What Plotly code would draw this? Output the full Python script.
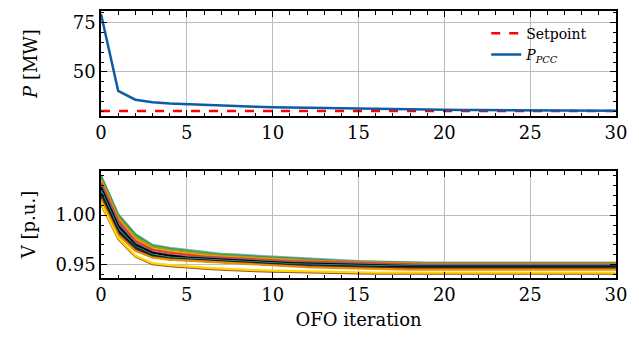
import plotly.graph_objects as go

iterations = list(range(31))

setpoint = [30.0] * 31
p_pcc = [79.5, 40.3, 35.8, 34.5, 33.9, 33.5, 33.1, 32.8, 32.5, 32.2, 31.95,
         31.8, 31.6, 31.45, 31.3, 31.15, 31.05, 30.95, 30.85, 30.75, 30.65,
         30.6, 30.5, 30.45, 30.4, 30.35, 30.3, 30.3, 30.25, 30.25, 30.2]

v_bus01 = [1.040, 1.001, 0.981, 0.970, 0.967, 0.965, 0.963, 0.961, 0.960, 0.959, 0.958,
           0.957, 0.956, 0.955, 0.954, 0.9535, 0.953, 0.9525, 0.9522, 0.9521, 0.952,
           0.952, 0.952, 0.952, 0.952, 0.952, 0.952, 0.952, 0.952, 0.952, 0.952]
v_bus02 = [1.039, 1.000, 0.980, 0.969, 0.966, 0.964, 0.962, 0.960, 0.959, 0.958, 0.957,
           0.956, 0.955, 0.954, 0.9535, 0.953, 0.9525, 0.952, 0.9517, 0.9516, 0.9515,
           0.9515, 0.9515, 0.9515, 0.9515, 0.9515, 0.9515, 0.9515, 0.9515, 0.9515, 0.9515]
v_bus03 = [1.037, 0.998, 0.978, 0.968, 0.965, 0.963, 0.961, 0.959, 0.958, 0.957, 0.956,
           0.955, 0.954, 0.9535, 0.953, 0.9525, 0.952, 0.9515, 0.9512, 0.951, 0.951,
           0.951, 0.951, 0.951, 0.951, 0.951, 0.951, 0.951, 0.951, 0.951, 0.951]
v_bus04 = [1.035, 0.996, 0.976, 0.966, 0.963, 0.961, 0.959, 0.958, 0.957, 0.956, 0.955,
           0.954, 0.9535, 0.953, 0.9525, 0.952, 0.9515, 0.951, 0.9505, 0.9505, 0.9505,
           0.9505, 0.9505, 0.9505, 0.9505, 0.9505, 0.9505, 0.9505, 0.9505, 0.9505, 0.9505]
v_bus05 = [1.033, 0.994, 0.974, 0.965, 0.962, 0.960, 0.958, 0.957, 0.956, 0.955, 0.954,
           0.9535, 0.953, 0.9525, 0.952, 0.9515, 0.951, 0.9505, 0.950, 0.950, 0.950,
           0.950, 0.950, 0.950, 0.950, 0.950, 0.950, 0.950, 0.950, 0.950, 0.950]
v_bus06 = [1.031, 0.992, 0.972, 0.963, 0.960, 0.958, 0.957, 0.956, 0.955, 0.954, 0.953,
           0.9525, 0.952, 0.9515, 0.951, 0.9505, 0.950, 0.9495, 0.9495, 0.9495, 0.9495,
           0.9495, 0.9495, 0.9495, 0.9495, 0.9495, 0.9495, 0.9495, 0.9495, 0.9495, 0.9495]
v_bus07 = [1.028, 0.989, 0.970, 0.962, 0.959, 0.957, 0.956, 0.955, 0.954, 0.953, 0.952,
           0.9515, 0.951, 0.9505, 0.950, 0.9495, 0.949, 0.9488, 0.9486, 0.9485, 0.9485,
           0.9485, 0.9485, 0.9485, 0.9485, 0.9485, 0.9485, 0.9485, 0.9485, 0.9485, 0.9485]
v_bus08 = [1.025, 0.986, 0.968, 0.960, 0.957, 0.956, 0.955, 0.954, 0.953, 0.952, 0.951,
           0.9505, 0.950, 0.9495, 0.949, 0.9487, 0.9484, 0.9482, 0.948, 0.948, 0.948,
           0.948, 0.948, 0.948, 0.948, 0.948, 0.948, 0.948, 0.948, 0.948, 0.948]
v_bus09 = [1.022, 0.984, 0.967, 0.959, 0.956, 0.955, 0.954, 0.953, 0.952, 0.951, 0.950,
           0.9495, 0.949, 0.9485, 0.948, 0.9478, 0.9476, 0.9475, 0.9475, 0.9475, 0.9475,
           0.9475, 0.9475, 0.9475, 0.9475, 0.9475, 0.9475, 0.9475, 0.9475, 0.9475, 0.9475]
v_bus10 = [1.019, 0.982, 0.966, 0.958, 0.9555, 0.9545, 0.9535, 0.9525, 0.9515, 0.9505, 0.9495,
           0.949, 0.9485, 0.948, 0.9475, 0.947, 0.9468, 0.9466, 0.9465, 0.9465, 0.9465,
           0.9465, 0.9465, 0.9465, 0.9465, 0.9465, 0.9465, 0.9465, 0.9465, 0.9465, 0.9465]
v_bus11 = [1.016, 0.980, 0.964, 0.957, 0.955, 0.954, 0.953, 0.952, 0.951, 0.950, 0.949,
           0.948, 0.9475, 0.947, 0.9465, 0.946, 0.9455, 0.9452, 0.945, 0.945, 0.945,
           0.945, 0.945, 0.945, 0.945, 0.945, 0.945, 0.945, 0.945, 0.945, 0.945]
v_bus12 = [1.011, 0.976, 0.958, 0.9505, 0.9485, 0.947, 0.946, 0.945, 0.944, 0.9435, 0.943,
           0.9425, 0.942, 0.9418, 0.9415, 0.9412, 0.941, 0.941, 0.941, 0.941, 0.941,
           0.941, 0.941, 0.941, 0.941, 0.941, 0.941, 0.941, 0.941, 0.941, 0.941]
v_bus13 = [1.012, 0.977, 0.959, 0.9515, 0.9495, 0.948, 0.947, 0.946, 0.945, 0.9445, 0.944,
           0.9435, 0.943, 0.9428, 0.9425, 0.9422, 0.942, 0.942, 0.942, 0.942, 0.942,
           0.942, 0.942, 0.942, 0.942, 0.942, 0.942, 0.942, 0.942, 0.942, 0.942]

voltage_series = [v_bus01, v_bus02, v_bus03, v_bus04, v_bus05, v_bus06, v_bus07,
                  v_bus08, v_bus09, v_bus10, v_bus11, v_bus12, v_bus13]
voltage_colors = ['#7fa8c9', '#2e9e44', '#8ea51f', '#ff9500', '#e8401c', '#845b97',
                  '#000000', '#1f8a70', '#111111', '#333333', '#f08a00', '#a0522d',
                  '#ffd700']

x_ticks = [0, 5, 10, 15, 20, 25, 30]
p_ticks = [50, 75]
v_ticks = [0.95, 1.00]

FONT = "DejaVu Serif"

fig = go.Figure()

fig.add_trace(go.Scatter(x=iterations, y=setpoint, mode='lines', name='Setpoint',
                         line=dict(color='#ff0000', width=2.5, dash='dash'),
                         xaxis='x', yaxis='y'))
fig.add_trace(go.Scatter(x=iterations, y=p_pcc, mode='lines',
                         name='<i>P</i><sub><i>PCC</i></sub>',
                         line=dict(color='#0C5DA5', width=2.5),
                         xaxis='x', yaxis='y'))

for vals, col in zip(voltage_series, voltage_colors):
    fig.add_trace(go.Scatter(x=iterations, y=vals, mode='lines', showlegend=False,
                             line=dict(color=col, width=2.2),
                             xaxis='x2', yaxis='y2'))

# empty carriers so the mirrored tick axes are drawn
fig.add_trace(go.Scatter(x=[None], y=[None], mode='lines', showlegend=False,
                         hoverinfo='skip', xaxis='x3', yaxis='y3'))
fig.add_trace(go.Scatter(x=[None], y=[None], mode='lines', showlegend=False,
                         hoverinfo='skip', xaxis='x4', yaxis='y4'))

tickfont = dict(family=FONT, size=18, color='black')


def main_axis(**kw):
    d = dict(showline=True, linecolor='black', linewidth=1.5, mirror=True,
             ticks='inside', ticklen=6, tickwidth=1.3, tickcolor='black',
             showgrid=True, gridcolor='#bdbdbd', gridwidth=1,
             zeroline=False, automargin=False, tickfont=tickfont)
    d.update(kw)
    return d


def mirror_axis(**kw):
    d = dict(showline=False, ticks='inside', ticklen=6, tickwidth=1.3, tickcolor='black',
             showgrid=False, zeroline=False, showticklabels=False, automargin=False)
    d.update(kw)
    return d


x_minor = dict(dtick=1, tick0=0, ticks='inside', ticklen=3.5, tickcolor='black', showgrid=False)
p_minor = dict(dtick=5, tick0=0, ticks='inside', ticklen=3.5, tickcolor='black', showgrid=False)
v_minor = dict(dtick=0.01, tick0=0.95, ticks='inside', ticklen=3.5, tickcolor='black', showgrid=False)

P_DOM = [0.6067, 1]
V_DOM = [0, 0.4007]
P_RANGE = [27.5, 81]
V_RANGE = [0.9365, 1.0445]

fig.update_layout(
    width=631, height=331,
    margin=dict(l=93, r=23, t=3, b=61),
    paper_bgcolor='white', plot_bgcolor='white',
    font=dict(family=FONT, color='black'),
    xaxis=main_axis(domain=[0, 1], anchor='y', range=[0, 30], tickvals=x_ticks, minor=x_minor),
    yaxis=main_axis(domain=P_DOM, anchor='x', range=P_RANGE, tickvals=p_ticks, minor=p_minor,
                    title=dict(text='<i>P</i> [MW]', font=dict(family=FONT, size=18), standoff=30)),
    xaxis2=main_axis(domain=[0, 1], anchor='y2', range=[0, 30], tickvals=x_ticks, minor=x_minor,
                     title=dict(text='OFO iteration', font=dict(family=FONT, size=18), standoff=9)),
    yaxis2=main_axis(domain=V_DOM, anchor='x2', range=V_RANGE, tickvals=v_ticks,
                     ticktext=['0.95', '1.00'], minor=v_minor,
                     title=dict(text='V [p.u.]', font=dict(family=FONT, size=18), standoff=15)),
    xaxis3=mirror_axis(overlaying='x', side='top', anchor='y', range=[0, 30],
                       tickvals=x_ticks, minor=x_minor),
    yaxis3=mirror_axis(overlaying='y', side='right', anchor='x3', range=P_RANGE,
                       tickvals=p_ticks, minor=p_minor),
    xaxis4=mirror_axis(overlaying='x2', side='top', anchor='y2', range=[0, 30],
                       tickvals=x_ticks, minor=x_minor),
    yaxis4=mirror_axis(overlaying='y2', side='right', anchor='x4', range=V_RANGE,
                       tickvals=v_ticks, minor=v_minor),
    legend=dict(x=0.748, y=0.975, xanchor='left', yanchor='top',
                bgcolor='rgba(0,0,0,0)', borderwidth=0,
                font=dict(family=FONT, size=14, color='black'),
                tracegroupgap=0),
    showlegend=True,
)

fig.write_html("out.html")
